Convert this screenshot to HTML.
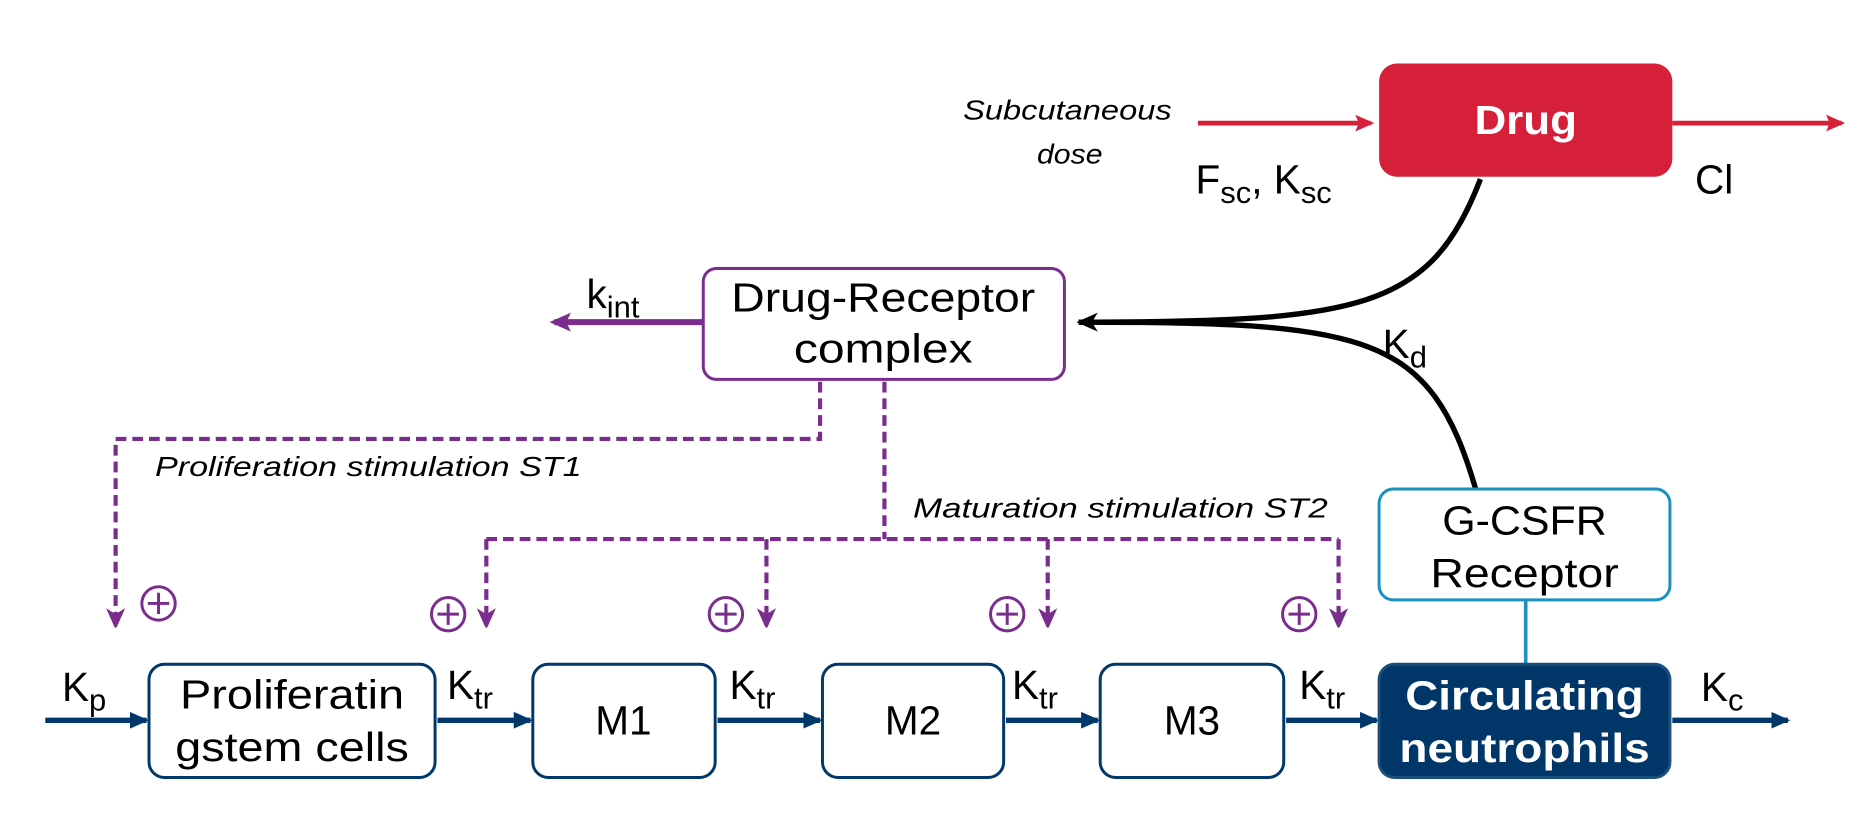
<!DOCTYPE html>
<html><head><meta charset="utf-8"><style>
html,body{margin:0;padding:0;background:#fff;}
svg{display:block;font-family:"Liberation Sans",sans-serif;}
</style></head><body>
<svg width="1869" height="835" viewBox="0 0 1568 700" xmlns="http://www.w3.org/2000/svg">
<defs>
<marker id="ar" markerWidth="16" markerHeight="16" refX="13" refY="8" orient="auto" markerUnits="userSpaceOnUse"><path d="M0,1 L16,8 L0,15 L3,8 Z" fill="#D62039"/></marker>
<marker id="an" markerWidth="16" markerHeight="16" refX="14" refY="8" orient="auto" markerUnits="userSpaceOnUse"><path d="M0,1 L16,8 L0,15 Z" fill="#00386B"/></marker>
<marker id="ap" markerWidth="18" markerHeight="18" refX="14" refY="9" orient="auto" markerUnits="userSpaceOnUse"><path d="M0,1 L18,9 L0,17 L4,9 Z" fill="#7B2D8E"/></marker>
<marker id="apd" markerWidth="16" markerHeight="18" refX="14" refY="8" orient="auto" markerUnits="userSpaceOnUse"><path d="M0,0 L18,8 L0,16 L5,8 Z" fill="#7B2D8E"/></marker>
<marker id="ab" markerWidth="20" markerHeight="20" refX="16" refY="10" orient="auto" markerUnits="userSpaceOnUse"><path d="M0,2 L18,10 L0,18 L5,10 Z" fill="#000"/></marker>
</defs>

<!-- Drug -->
<rect x="1157" y="53" width="246" height="95" rx="15" fill="#D62039"/>
<text x="1280" y="112" font-size="34" font-weight="bold" fill="#fff" text-anchor="middle" textLength="86" lengthAdjust="spacingAndGlyphs">Drug</text>
<line x1="1005" y1="103" x2="1150" y2="103" stroke="#D62039" stroke-width="4" marker-end="url(#ar)"/>
<line x1="1403" y1="103" x2="1545" y2="103" stroke="#D62039" stroke-width="4" marker-end="url(#ar)"/>
<text x="983" y="100" font-size="23" font-style="italic" text-anchor="end" textLength="175" lengthAdjust="spacingAndGlyphs">Subcutaneous</text>
<text x="925" y="137" font-size="23" font-style="italic" text-anchor="end" textLength="55" lengthAdjust="spacingAndGlyphs">dose</text>
<text x="1003" y="162" font-size="34">F<tspan font-size="26" dy="8">sc</tspan><tspan dy="-8">, K</tspan><tspan font-size="26" dy="8">sc</tspan></text>
<text x="1422" y="162" font-size="34">Cl</text>

<!-- Drug-Receptor -->
<rect x="590" y="225" width="303" height="93" rx="11" fill="#fff" stroke="#7B2D8E" stroke-width="2.5"/>
<text x="741" y="261" font-size="34" text-anchor="middle" textLength="255" lengthAdjust="spacingAndGlyphs">Drug-Receptor</text>
<text x="741" y="304" font-size="34" text-anchor="middle" textLength="150" lengthAdjust="spacingAndGlyphs">complex</text>
<line x1="590" y1="270" x2="465" y2="270" stroke="#7B2D8E" stroke-width="5" marker-end="url(#ap)"/>
<text x="492" y="258" font-size="34">k<tspan font-size="26" dy="8">int</tspan></text>

<!-- black curves -->
<path d="M1242,150 C1200,260 1140,270 905,270" fill="none" stroke="#000" stroke-width="4.5" marker-end="url(#ab)"/>
<path d="M1238,410 C1200,280 1150,270 905,270" fill="none" stroke="#000" stroke-width="4.5"/>
<text x="1160" y="300" font-size="34">K<tspan font-size="26" dy="8">d</tspan></text>

<!-- G-CSFR -->
<rect x="1157" y="410" width="244" height="93" rx="12" fill="#fff" stroke="#1E90C0" stroke-width="2.5"/>
<text x="1279" y="448" font-size="34" text-anchor="middle" textLength="138" lengthAdjust="spacingAndGlyphs">G-CSFR</text>
<text x="1279" y="492" font-size="34" text-anchor="middle" textLength="158" lengthAdjust="spacingAndGlyphs">Receptor</text>
<line x1="1280" y1="503" x2="1280" y2="558" stroke="#1E90C0" stroke-width="3"/>

<!-- bottom boxes -->
<g fill="#fff" stroke="#00386B" stroke-width="2.5">
<rect x="125" y="557" width="240" height="95" rx="13"/>
<rect x="447" y="557" width="153" height="95" rx="13"/>
<rect x="690" y="557" width="152" height="95" rx="13"/>
<rect x="923" y="557" width="154" height="95" rx="13"/>
</g>
<rect x="1157" y="557" width="244" height="95" rx="13" fill="#003668" stroke="#1A4F7A" stroke-width="2.5"/>
<text x="245" y="594" font-size="34" text-anchor="middle" textLength="188" lengthAdjust="spacingAndGlyphs">Proliferatin</text>
<text x="245" y="638" font-size="34" text-anchor="middle" textLength="196" lengthAdjust="spacingAndGlyphs">gstem cells</text>
<text x="523" y="616" font-size="34" text-anchor="middle">M1</text>
<text x="766" y="616" font-size="34" text-anchor="middle">M2</text>
<text x="1000" y="616" font-size="34" text-anchor="middle">M3</text>
<text x="1279" y="595" font-size="34" font-weight="bold" fill="#fff" text-anchor="middle" textLength="200" lengthAdjust="spacingAndGlyphs">Circulating</text>
<text x="1279" y="639" font-size="34" font-weight="bold" fill="#fff" text-anchor="middle" textLength="210" lengthAdjust="spacingAndGlyphs">neutrophils</text>

<g stroke="#00386B" stroke-width="4.5">
<line x1="38" y1="604" x2="123" y2="604" marker-end="url(#an)"/>
<line x1="367" y1="604" x2="445" y2="604" marker-end="url(#an)"/>
<line x1="602" y1="604" x2="688" y2="604" marker-end="url(#an)"/>
<line x1="844" y1="604" x2="921" y2="604" marker-end="url(#an)"/>
<line x1="1079" y1="604" x2="1155" y2="604" marker-end="url(#an)"/>
<line x1="1403" y1="604" x2="1500" y2="604" marker-end="url(#an)"/>
</g>
<g font-size="34">
<text x="52" y="588">K<tspan font-size="26" dy="8">p</tspan></text>
<text x="375" y="586">K<tspan font-size="26" dy="8">tr</tspan></text>
<text x="612" y="586">K<tspan font-size="26" dy="8">tr</tspan></text>
<text x="849" y="586">K<tspan font-size="26" dy="8">tr</tspan></text>
<text x="1090" y="586">K<tspan font-size="26" dy="8">tr</tspan></text>
<text x="1427" y="588">K<tspan font-size="26" dy="8">c</tspan></text>
</g>

<!-- dashed purple -->
<g fill="none" stroke="#7B2D8E" stroke-width="3.5" stroke-dasharray="9,5">
<polyline points="688,320 688,368 97,368 97,524" marker-end="url(#apd)"/>
<polyline points="742,320 742,452"/>
<polyline points="408,452 1123,452"/>
<polyline points="408,452 408,524" marker-end="url(#apd)"/>
<polyline points="643,452 643,524" marker-end="url(#apd)"/>
<polyline points="879,452 879,524" marker-end="url(#apd)"/>
<polyline points="1123,452 1123,524" marker-end="url(#apd)"/>
</g>
<text x="130" y="399" font-size="23" font-style="italic" textLength="358" lengthAdjust="spacingAndGlyphs">Proliferation stimulation ST1</text>
<text x="766" y="434" font-size="23" font-style="italic" textLength="348" lengthAdjust="spacingAndGlyphs">Maturation stimulation ST2</text>

<!-- plus circles -->
<g fill="none" stroke="#7B2D8E" stroke-width="2.5">
<circle cx="133" cy="506" r="14"/><path d="M124,506 H142 M133,497 V515"/>
<circle cx="376" cy="515" r="14"/><path d="M367,515 H385 M376,506 V524"/>
<circle cx="609" cy="515" r="14"/><path d="M600,515 H618 M609,506 V524"/>
<circle cx="845" cy="515" r="14"/><path d="M836,515 H854 M845,506 V524"/>
<circle cx="1090" cy="515" r="14"/><path d="M1081,515 H1099 M1090,506 V524"/>
</g>
</svg>
</body></html>
